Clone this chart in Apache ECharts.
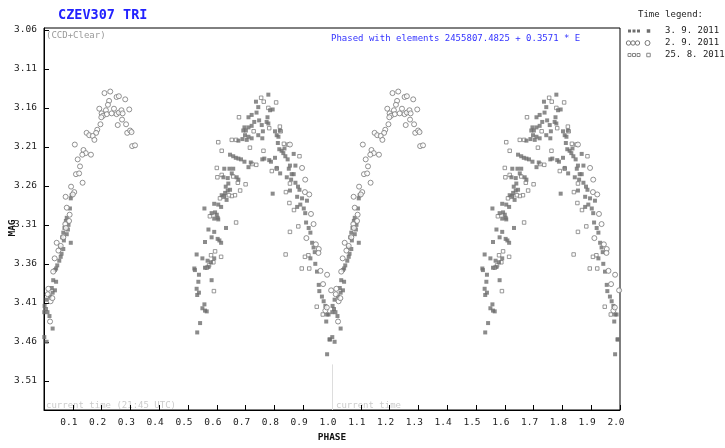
<!DOCTYPE html>
<html>
<head>
<meta charset="utf-8">
<script src="https://cdn.jsdelivr.net/npm/echarts@6/dist/echarts.min.js"></script>
<style>
  html, body { margin: 0; padding: 0; background: #fff; }
  #chart { width: 725px; height: 448px; }
</style>
</head>
<body>
<div id="chart"></div>
<script>
// CZEV307 TRI - light curve phased, one cycle of data drawn twice (0..1 and 1..2)

// [phase, mag] 3. 9. 2011 (filled squares)
const sep3 = [
  [0.093,3.276],[0.096,3.272],[0.090,3.289],[0.079,3.301],[0.076,3.305],[0.085,3.310],[0.071,3.314],[0.067,3.320],
  [0.083,3.316],[0.079,3.322],[0.063,3.326],[0.069,3.330],[0.093,3.333],[0.056,3.339],[0.061,3.347],[0.067,3.341],
  [0.058,3.351],[0.053,3.356],[0.046,3.362],[0.042,3.366],[0.038,3.368],[0.032,3.381],[0.042,3.383],[0.027,3.391],
  [0.038,3.394],[0.030,3.397],[0.021,3.402],[0.009,3.406],[0.002,3.414],[0.007,3.418],[0.001,3.422],[0.012,3.422],
  [0.019,3.427],[0.030,3.443],[0.001,3.454],[0.009,3.460],
  [0.736,3.152],[0.744,3.159],[0.721,3.169],[0.710,3.172],[0.738,3.166],[0.747,3.176],[0.730,3.178],[0.721,3.183],
  [0.710,3.185],[0.696,3.185],[0.692,3.189],[0.701,3.189],[0.698,3.195],[0.710,3.197],[0.721,3.199],[0.689,3.200],
  [0.704,3.201],[0.675,3.202],[0.758,3.199],[0.744,3.195],[0.756,3.182],[0.760,3.190],
  [0.646,3.220],[0.657,3.222],[0.666,3.224],[0.675,3.225],[0.684,3.226],[0.696,3.229],[0.710,3.236],[0.718,3.230],
  [0.758,3.226],[0.626,3.238],[0.644,3.238],[0.657,3.238],[0.652,3.244],[0.669,3.249],[0.675,3.252],[0.638,3.250],
  [0.623,3.249],[0.640,3.257],[0.631,3.261],[0.638,3.266],[0.629,3.269],[0.646,3.265],[0.617,3.272],[0.626,3.273],
  [0.634,3.278],[0.591,3.283],[0.605,3.284],[0.615,3.287],[0.557,3.289],[0.582,3.295],[0.594,3.294],[0.600,3.297],
  [0.603,3.301],[0.591,3.302],[0.605,3.303],[0.632,3.314],[0.571,3.316],[0.591,3.319],[0.559,3.332],[0.582,3.326],
  [0.603,3.328],[0.609,3.330],[0.615,3.333],[0.530,3.348],[0.550,3.353],[0.568,3.356],[0.580,3.358],[0.591,3.353],
  [0.571,3.364],[0.559,3.365],[0.522,3.366],[0.524,3.368],[0.538,3.374],[0.582,3.381],[0.536,3.383],[0.530,3.392],
  [0.538,3.397],[0.532,3.400],[0.557,3.412],[0.550,3.417],[0.559,3.420],[0.565,3.421],[0.542,3.436],[0.532,3.448],
  [0.779,3.143],[0.776,3.172],[0.785,3.163],[0.794,3.162],[0.779,3.180],[0.773,3.178],[0.802,3.190],[0.808,3.195],
  [0.814,3.197],[0.819,3.189],[0.817,3.213],[0.825,3.215],[0.831,3.218],[0.782,3.227],[0.802,3.224],[0.854,3.234],
  [0.860,3.245],[0.843,3.249],[0.854,3.266],[0.794,3.270],[0.838,3.222],[0.846,3.226],[0.850,3.238],[0.858,3.252],
  [0.835,3.212],[0.812,3.205],[0.765,3.225],[0.788,3.229],[0.808,3.237],[0.820,3.244],
  [0.867,3.219],[0.873,3.234],[0.867,3.245],[0.873,3.256],[0.882,3.261],[0.887,3.265],[0.879,3.274],[0.896,3.276],
  [0.913,3.279],[0.879,3.287],[0.890,3.284],[0.902,3.289],[0.907,3.295],[0.910,3.307],[0.919,3.314],[0.925,3.320],
  [0.931,3.333],[0.936,3.339],[0.940,3.345],[0.925,3.353],[0.942,3.360],[0.948,3.370],[0.954,3.387],[0.956,3.395],
  [0.965,3.402],[0.971,3.408],[0.977,3.414],[0.983,3.425],[0.988,3.425],[0.980,3.434],[0.991,3.457],[0.983,3.476],
  [0.993,3.457]
]

// [phase, mag] 2. 9. 2011 (open circles)
const sep2 = [
  [0.210,3.141],[0.230,3.139],[0.226,3.151],[0.252,3.146],[0.260,3.145],[0.282,3.149],[0.222,3.156],[0.192,3.161],
  [0.215,3.163],[0.200,3.167],[0.205,3.170],[0.199,3.172],[0.218,3.168],[0.235,3.167],[0.243,3.161],[0.252,3.168],
  [0.260,3.166],[0.269,3.163],[0.273,3.167],[0.296,3.162],[0.271,3.175],[0.256,3.182],[0.285,3.181],[0.196,3.181],
  [0.185,3.188],[0.181,3.192],[0.148,3.192],[0.157,3.195],[0.169,3.196],[0.175,3.201],[0.289,3.192],[0.299,3.189],
  [0.304,3.191],[0.306,3.209],[0.316,3.208],[0.107,3.207],[0.137,3.214],[0.145,3.218],[0.133,3.220],[0.163,3.220],
  [0.117,3.226],[0.125,3.235],[0.111,3.245],[0.122,3.244],[0.134,3.256],[0.094,3.261],[0.105,3.268],[0.100,3.271],
  [0.075,3.274],[0.079,3.288],[0.089,3.297],[0.087,3.305],[0.074,3.309],[0.076,3.314],[0.067,3.326],[0.044,3.333],
  [0.058,3.337],[0.050,3.343],[0.037,3.353],[0.032,3.370],[0.015,3.392],[0.013,3.399],[0.023,3.408],[0.029,3.404],
  [0.021,3.434],
  [0.854,3.207],[0.896,3.237],[0.907,3.252],[0.906,3.268],[0.921,3.271],[0.927,3.296],[0.936,3.309],[0.911,3.327],
  [0.944,3.335],[0.954,3.341],[0.953,3.346],[0.960,3.369],[0.983,3.374],[0.969,3.386],[0.997,3.394],[0.977,3.420],
  [0.982,3.416]
]

// [phase, mag] 25. 8. 2011 (open squares)
const aug25 = [
  [0.754,3.147],[0.763,3.152],[0.677,3.172],[0.728,3.190],[0.715,3.211],[0.737,3.233],[0.723,3.232],[0.762,3.215],
  [0.605,3.204],[0.617,3.215],[0.652,3.201],[0.667,3.201],[0.600,3.237],[0.602,3.249],[0.617,3.246],[0.657,3.248],
  [0.673,3.256],[0.700,3.258],[0.681,3.266],[0.663,3.272],[0.652,3.273],[0.623,3.274],[0.611,3.276],[0.642,3.272],
  [0.576,3.299],[0.667,3.307],[0.594,3.344],[0.580,3.349],[0.615,3.351],[0.588,3.358],[0.573,3.362],[0.565,3.365],
  [0.590,3.395],
  [0.806,3.153],[0.779,3.160],[0.819,3.184],[0.822,3.190],[0.782,3.186],[0.833,3.206],[0.848,3.207],[0.887,3.222],
  [0.791,3.241],[0.808,3.238],[0.854,3.257],[0.840,3.268],[0.852,3.282],[0.868,3.291],[0.854,3.319],[0.883,3.312],
  [0.839,3.348],[0.918,3.349],[0.895,3.366],[0.921,3.366],[0.906,3.351],[0.947,3.415],[0.968,3.425]
]

const magTicks = [3.06, 3.11, 3.16, 3.21, 3.26, 3.31, 3.36, 3.41, 3.46, 3.51]
const legendNames = ['3. 9. 2011', '2. 9. 2011', '25. 8. 2011']
const currentPhase = 0.0007
const currentLineTop = 3.489

const MONO = 'DejaVu Sans Mono'
const GREY = '#6e6e6e'

function twoCycles(points) {
  return points.flatMap(([p, m]) => [[p, m], [p + 1, m]])
}

const chart = echarts.init(document.getElementById('chart'), null, { renderer: 'canvas' })

// small legend symbols: three small marks, a gap, then one more
function legendRow(i, y) {
  const els = []
  const xs = [629.5, 634, 638.5, 648.5]
  xs.forEach((x, k) => {
    if (i === 1) {
      els.push({ type: 'circle', shape: { cx: x - 1, cy: y, r: k === 3 ? 2.5 : 2.2 },
        style: { fill: '#fff', stroke: '#777', lineWidth: 1 } })
    } else {
      const s = k === 3 ? 3.5 : 3
      els.push({ type: 'rect', shape: { x: x - s / 2, y: y - s / 2, width: s, height: s },
        style: i === 0 ? { fill: GREY } : { fill: '#fff', stroke: '#888', lineWidth: 1 } })
    }
  })
  els.push({ type: 'text', x: 665, y: y, style: { text: legendNames[i], font: '9px ' + MONO,
    fill: '#222', verticalAlign: 'middle' } })
  return els
}

const graphics = [
  { type: 'text', x: 58, y: 15, style: { text: 'CZEV307 TRI', font: 'bold 13.5px ' + MONO,
    fill: '#2222ff', verticalAlign: 'middle' } },
  { type: 'text', x: 46, y: 36, style: { text: '(CCD+Clear)', font: '9px ' + MONO,
    fill: '#999', verticalAlign: 'middle' } },
  { type: 'text', x: 331, y: 39, style: { text: 'Phased with elements 2455807.4825 + 0.3571 * E',
    font: '9px ' + MONO, fill: '#3333ff', verticalAlign: 'middle' } },
  { type: 'text', x: 46, y: 406, style: { text: 'current time (21:45 UTC)', font: '9px ' + MONO,
    fill: '#ccc', verticalAlign: 'middle' } },
  { type: 'text', x: 336, y: 406, style: { text: 'current time', font: '9px ' + MONO,
    fill: '#ccc', verticalAlign: 'middle' } },
  { type: 'text', x: 13, y: 228, rotation: Math.PI / 2, style: { text: 'MAG', font: 'bold 9.5px ' + MONO,
    fill: '#111', align: 'center', verticalAlign: 'middle' } },
  { type: 'text', x: 638, y: 15, style: { text: 'Time legend:', font: '9px ' + MONO,
    fill: '#222', verticalAlign: 'middle' } },
  ...legendRow(0, 31),
  ...legendRow(1, 43),
  ...legendRow(2, 55)
]

const option = {
  animation: false,
  backgroundColor: '#fff',
  grid: { left: 44, right: 105, top: 28, bottom: 30, show: true, borderColor: '#000', borderWidth: 1 },
  xAxis: {
    type: 'value', min: 0, max: 2, interval: 0.1,
    name: 'PHASE', nameLocation: 'middle', nameGap: 23,
    nameTextStyle: { fontFamily: MONO, fontWeight: 'bold', fontSize: 9.5, color: '#111' },
    axisLine: { lineStyle: { color: '#000', width: 1 } },
    axisTick: { inside: true, length: 5, lineStyle: { color: '#000' } },
    axisLabel: { showMinLabel: false, margin: 8, fontFamily: MONO, fontSize: 9.5, color: '#222',
      padding: [0, 8, 0, 0], formatter: v => v.toFixed(1) },
    splitLine: { show: false }
  },
  yAxis: {
    type: 'value', inverse: true, min: 3.0575, max: 3.5475,
    axisLine: { show: true, lineStyle: { color: '#000', width: 1 } },
    axisTick: { show: true, inside: true, length: 5, customValues: magTicks, lineStyle: { color: '#000' } },
    axisLabel: { customValues: magTicks, margin: 7, fontFamily: MONO, fontSize: 9.5, color: '#222',
      formatter: v => v.toFixed(2) },
    splitLine: { show: false }
  },
  graphic: graphics,
  series: [
    {
      name: legendNames[2], type: 'scatter', symbol: 'rect', symbolSize: 3.5,
      itemStyle: { color: '#fff', borderColor: '#808080', borderWidth: 1 },
      data: twoCycles(aug25), z: 2
    },
    {
      name: legendNames[0], type: 'scatter', symbol: 'rect', symbolSize: 4,
      itemStyle: { color: GREY },
      data: twoCycles(sep3), z: 3,
      markLine: {
        silent: true, symbol: 'none', label: { show: false },
        lineStyle: { color: '#ddd', width: 1, type: 'solid' },
        data: [[{ coord: [currentPhase + 1, currentLineTop] }, { coord: [currentPhase + 1, 3.5475] }]]
      }
    },
    {
      name: legendNames[1], type: 'scatter', symbol: 'circle', symbolSize: 5,
      itemStyle: { color: '#fff', borderColor: '#777', borderWidth: 1 },
      data: twoCycles(sep2), z: 4
    }
  ]
}

chart.setOption(option)
</script>
</body>
</html>
